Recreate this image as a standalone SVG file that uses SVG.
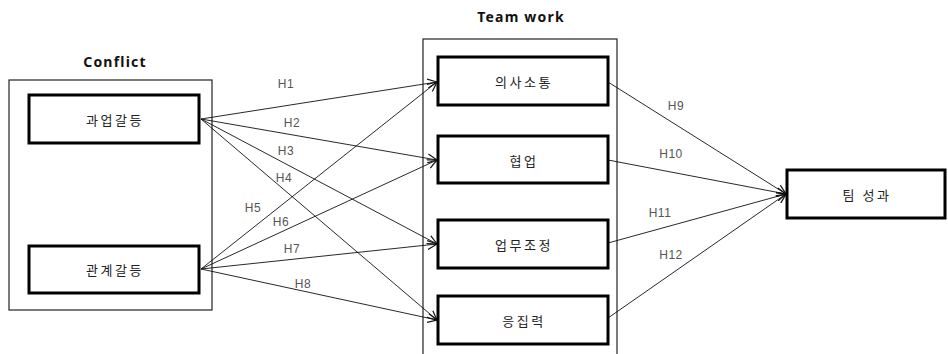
<svg xmlns="http://www.w3.org/2000/svg" width="948" height="354" viewBox="0 0 948 354">
<style>
.title{font-family:"Noto Sans","Noto Sans CJK KR",sans-serif;font-size:14px;font-weight:bold;letter-spacing:1.2px;fill:#111;text-anchor:middle}
.frame{fill:none;stroke:#222;stroke-width:1.2}
.node{fill:#fff;stroke:#000;stroke-width:3}
.nlabel{font-family:"Noto Sans CJK KR","Noto Sans",sans-serif;font-size:13px;letter-spacing:2.5px;fill:#222;text-anchor:middle;dominant-baseline:central}
.edge{fill:none;stroke:#111;stroke-width:0.9;marker-end:url(#arr)}
.hl{font-family:"Liberation Sans","Noto Sans",sans-serif;font-size:12px;letter-spacing:0.5px;fill:#555;text-anchor:middle;dominant-baseline:central}
</style>
<defs>
<marker id="arr" viewBox="0 0 10 10" refX="9.5" refY="5" markerWidth="10" markerHeight="10" markerUnits="userSpaceOnUse" orient="auto">
<path d="M0,0.5 L9.5,5 L0,9.5" fill="none" stroke="#111" stroke-width="1.2"/>
</marker>
</defs>
<rect width="948" height="354" fill="#fff"/>
<text class="title" x="115" y="67">Conflict</text>
<text class="title" x="521" y="22">Team work</text>
<rect class="frame" x="9" y="80" width="203" height="230"/>
<rect class="frame" x="423" y="39" width="194" height="320"/>
<g id="edges">
<line class="edge" x1="201" y1="119" x2="437" y2="82"/>
<line class="edge" x1="201" y1="119" x2="437" y2="160"/>
<line class="edge" x1="201" y1="119" x2="437" y2="244"/>
<line class="edge" x1="201" y1="119" x2="437" y2="320"/>
<line class="edge" x1="201" y1="269" x2="437" y2="82"/>
<line class="edge" x1="201" y1="269" x2="437" y2="160"/>
<line class="edge" x1="201" y1="269" x2="437" y2="244"/>
<line class="edge" x1="201" y1="269" x2="437" y2="320"/>
<line class="edge" x1="608" y1="82" x2="786" y2="194"/>
<line class="edge" x1="608" y1="160" x2="786" y2="194"/>
<line class="edge" x1="608" y1="243" x2="786" y2="194"/>
<line class="edge" x1="608" y1="318" x2="786" y2="194"/>
<text class="hl" x="286" y="84">H1</text>
<text class="hl" x="292" y="123">H2</text>
<text class="hl" x="286" y="151">H3</text>
<text class="hl" x="284" y="178">H4</text>
<text class="hl" x="253" y="208">H5</text>
<text class="hl" x="281" y="222">H6</text>
<text class="hl" x="292" y="249">H7</text>
<text class="hl" x="303" y="284">H8</text>
<text class="hl" x="676" y="106">H9</text>
<text class="hl" x="671" y="154">H10</text>
<text class="hl" x="660" y="213">H11</text>
<text class="hl" x="671" y="255">H12</text>
</g>
<g id="task-conflict"><rect class="node" x="29" y="95" width="170" height="48"/><text class="nlabel" x="115" y="119">과업갈등</text></g>
<g id="relation-conflict"><rect class="node" x="29" y="246" width="170" height="47"/><text class="nlabel" x="115" y="269">관계갈등</text></g>
<g id="communication"><rect class="node" x="438" y="57" width="170" height="48"/><text class="nlabel" x="524" y="81">의사소통</text></g>
<g id="collaboration"><rect class="node" x="438" y="136" width="170" height="47"/><text class="nlabel" x="524" y="160">협업</text></g>
<g id="coordination"><rect class="node" x="438" y="220" width="170" height="48"/><text class="nlabel" x="524" y="244">업무조정</text></g>
<g id="cohesion"><rect class="node" x="438" y="296" width="170" height="48"/><text class="nlabel" x="524" y="320">응집력</text></g>
<g id="team-performance"><rect class="node" x="787" y="170" width="158" height="48"/><text class="nlabel" x="867" y="194">팀 성과</text></g>
</svg>
